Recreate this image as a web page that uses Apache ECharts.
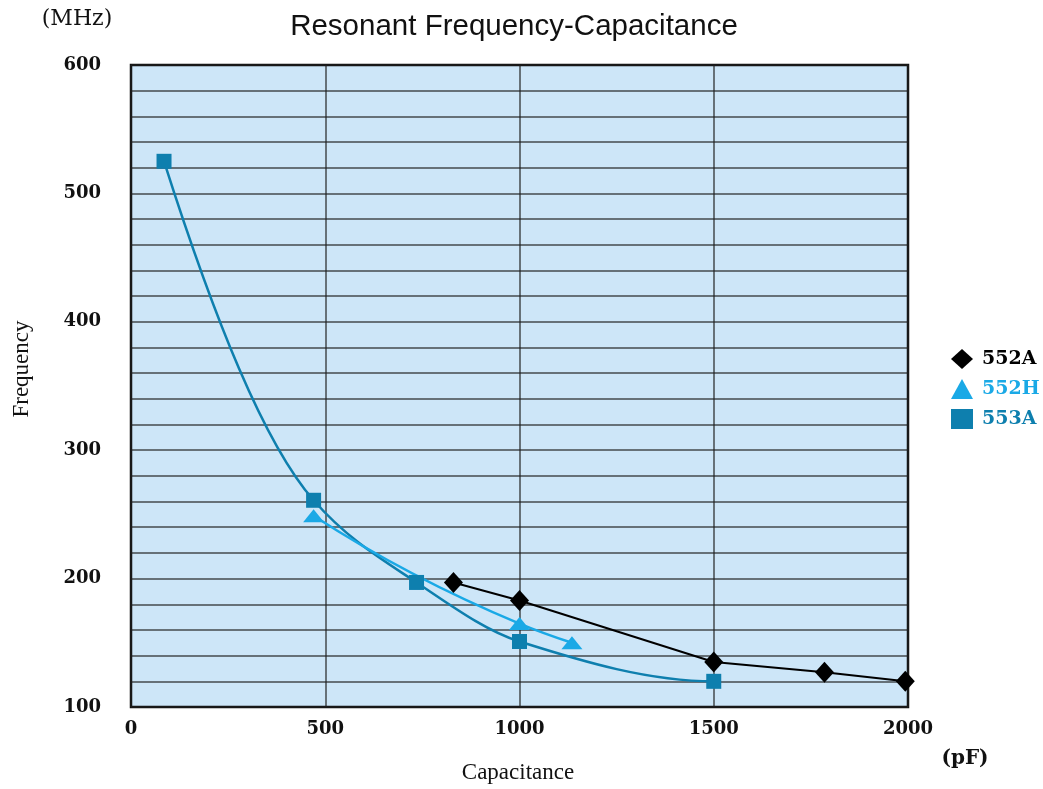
<!DOCTYPE html>
<html><head><meta charset="utf-8">
<script src="https://cdn.jsdelivr.net/npm/echarts@6/dist/echarts.min.js"></script>
<style>html,body{margin:0;padding:0;background:#fff}#c{width:1043px;height:789px}</style>
</head><body><div id="c"></div>
<script>
const title = 'Resonant Frequency-Capacitance';
const xTicks = [0, 500, 1000, 1500, 2000];
const yTicks = [100, 200, 300, 400, 500, 600];
const s552A = [[830, 197], [1000, 183], [1500, 135], [1785, 127], [1993, 120]];
const s552H = [[470, 249], [1000, 165], [1135, 150]];
const s553A = [[85, 525], [470, 261], [735, 197], [1000, 151], [1500, 120]];
const names = ['552A', '552H', '553A'];
const colors = ['#000000', '#1aa9e6', '#0e7fae'];

const serif = '"Liberation Serif", "Times New Roman", serif';
const wide = '"DejaVu Serif", serif';

// monotone cubic (Fritsch-Carlson) through pixel points -> bezier segments
function monoCurve(p, color, width) {
  const n = p.length, h = [], d = [], m = [];
  for (let i = 0; i < n - 1; i++) { h[i] = p[i + 1][0] - p[i][0]; d[i] = (p[i + 1][1] - p[i][1]) / h[i]; }
  for (let i = 1; i < n - 1; i++) {
    if (d[i - 1] * d[i] <= 0) { m[i] = 0; continue; }
    const w1 = 2 * h[i] + h[i - 1], w2 = h[i] + 2 * h[i - 1];
    m[i] = (w1 + w2) / (w1 / d[i - 1] + w2 / d[i]);
  }
  function endSlope(h0, h1, d0, d1) {
    let s = ((2 * h0 + h1) * d0 - h0 * d1) / (h0 + h1);
    if (Math.sign(s) !== Math.sign(d0)) s = 0;
    else if (Math.sign(d0) !== Math.sign(d1) && Math.abs(s) > 3 * Math.abs(d0)) s = 3 * d0;
    return s;
  }
  if (n === 2) { m[0] = m[1] = d[0]; }
  else {
    m[0] = endSlope(h[0], h[1], d[0], d[1]);
    m[n - 1] = endSlope(h[n - 2], h[n - 3], d[n - 2], d[n - 3]);
  }
  const children = [];
  for (let i = 0; i < n - 1; i++) {
    const t = h[i] / 3;
    children.push({ type: 'bezierCurve', shape: {
      x1: p[i][0], y1: p[i][1], x2: p[i + 1][0], y2: p[i + 1][1],
      cpx1: p[i][0] + t, cpy1: p[i][1] + m[i] * t, cpx2: p[i + 1][0] - t, cpy2: p[i + 1][1] - m[i + 1] * t },
      style: { stroke: color, lineWidth: width, fill: null } });
  }
  return { type: 'group', children };
}
function curveSeries(name, src, color, width, z) {
  return { name, type: 'custom', data: [src[0]], z, silent: true, itemStyle: { color },
    renderItem: (params, api) => monoCurve(src.map(v => api.coord(v)), color, width) };
}

const chart = echarts.init(document.getElementById('c'));
chart.setOption({
  animation: false,
  backgroundColor: '#fff',
  color: colors,
  title: { text: title, left: 509, top: 7, textAlign: 'center',
    textStyle: { fontFamily: '"Liberation Sans", Arial, sans-serif', fontWeight: 'normal', fontSize: 29.5, color: '#111' } },
  grid: { left: 131, right: 135, top: 65, bottom: 82, show: true, backgroundColor: '#cde6f8', borderColor: '#111', borderWidth: 2.5 },
  legend: {
    orient: 'vertical', left: 946, top: 344, itemGap: 10, itemWidth: 22, itemHeight: 20,
    textStyle: { fontFamily: wide, fontWeight: 'bold', fontSize: 19, padding: [0, 0, 0, 4] },
    data: names.map((n, i) => ({ name: n, icon: ['diamond', 'triangle', 'rect'][i],
      itemStyle: { color: colors[i] }, textStyle: { color: colors[i] } }))
  },
  xAxis: {
    type: 'value', min: xTicks[0], max: xTicks[xTicks.length - 1], interval: 500,
    axisLine: { show: false }, axisTick: { show: false },
    axisLabel: { fontFamily: wide, fontWeight: 'bold', fontSize: 18, color: '#111', margin: 13,
      formatter: v => String(v) },
    splitLine: { show: true, lineStyle: { color: 'rgba(30,30,30,0.78)', width: 1.5 } }
  },
  yAxis: {
    type: 'value', min: 100, max: 600, interval: 20,
    axisLine: { show: false }, axisTick: { show: false },
    axisLabel: { fontFamily: wide, fontWeight: 'bold', fontSize: 18, color: '#111', margin: 30, padding: [4, 0, 0, 0],
      formatter: v => (yTicks.indexOf(v) >= 0 ? String(v) : '') },
    splitLine: { show: true, lineStyle: { color: 'rgba(30,30,30,0.78)', width: 1.5 } }
  },
  graphic: [
    { type: 'text', x: 77, y: 19, style: { text: '(MHz)', font: '22px ' + wide, fill: '#111', textAlign: 'center', textVerticalAlign: 'middle' } },
    { type: 'text', x: 965, y: 759, style: { text: '(pF)', font: 'bold 20px ' + wide, fill: '#111', textAlign: 'center', textVerticalAlign: 'middle' } },
    { type: 'text', x: 22, y: 369, rotation: Math.PI / 2, style: { text: 'Frequency', font: '23px ' + serif, fill: '#111', textAlign: 'center', textVerticalAlign: 'middle' } },
    { type: 'text', x: 518, y: 773, style: { text: 'Capacitance', font: '23px ' + serif, fill: '#111', textAlign: 'center', textVerticalAlign: 'middle' } }
  ],
  series: [
    curveSeries(names[2], s553A, colors[2], 2.5, 2),
    curveSeries(names[1], s552H, colors[1], 2.5, 3),
    { name: names[2], type: 'line', data: s553A, symbol: 'rect', symbolSize: 15,
      lineStyle: { opacity: 0 }, itemStyle: { color: colors[2] }, z: 4 },
    { name: names[1], type: 'line', data: s552H, symbol: 'triangle', symbolSize: [21, 13],
      lineStyle: { opacity: 0 }, itemStyle: { color: colors[1] }, z: 4 },
    { name: names[0], type: 'line', data: s552A, symbol: 'diamond', symbolSize: [19, 21],
      lineStyle: { color: colors[0], width: 2 }, itemStyle: { color: colors[0] }, z: 5 }
  ]
});
</script></body></html>
